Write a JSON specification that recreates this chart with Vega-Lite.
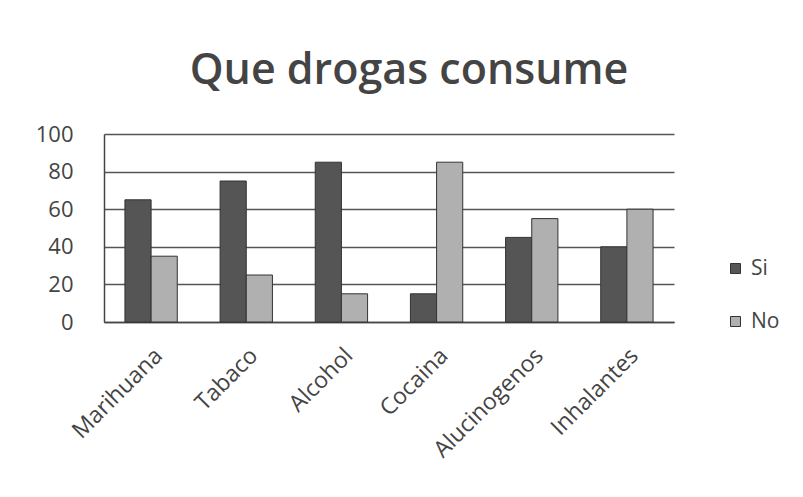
{
  "$schema": "https://vega.github.io/schema/vega-lite/v6.json",
  "autosize": "none",
  "width": 570,
  "height": 188,
  "padding": {"left": 104, "top": 134, "right": 129, "bottom": 175},
  "background": "white",
  "title": {
    "text": "Que drogas consume",
    "font": "Open Sans",
    "fontSize": 43,
    "fontWeight": 600,
    "color": "#444444",
    "anchor": "middle",
    "dx": 20,
    "offset": 30
  },
  "data": {
    "values": [
      {"droga": "Marihuana", "serie": "Si", "valor": 65},
      {"droga": "Marihuana", "serie": "No", "valor": 35},
      {"droga": "Tabaco", "serie": "Si", "valor": 75},
      {"droga": "Tabaco", "serie": "No", "valor": 25},
      {"droga": "Alcohol", "serie": "Si", "valor": 85},
      {"droga": "Alcohol", "serie": "No", "valor": 15},
      {"droga": "Cocaina", "serie": "Si", "valor": 15},
      {"droga": "Cocaina", "serie": "No", "valor": 85},
      {"droga": "Alucinogenos", "serie": "Si", "valor": 45},
      {"droga": "Alucinogenos", "serie": "No", "valor": 55},
      {"droga": "Inhalantes", "serie": "Si", "valor": 40},
      {"droga": "Inhalantes", "serie": "No", "valor": 60}
    ]
  },
  "mark": {"type": "bar", "stroke": "#333333", "strokeWidth": 1},
  "encoding": {
    "x": {
      "field": "droga",
      "type": "nominal",
      "sort": null,
      "title": null,
      "scale": {"paddingInner": 0.45, "paddingOuter": 0.22},
      "axis": {
        "labelAngle": -45,
        "labelFont": "Open Sans",
        "labelFontSize": 23,
        "labelColor": "#444444",
        "ticks": false,
        "domainColor": "#444444",
        "domainWidth": 1.5,
        "labelPadding": 22
      }
    },
    "xOffset": {"field": "serie", "type": "nominal", "sort": ["Si", "No"], "scale": {"paddingInner": 0}},
    "y": {
      "field": "valor",
      "type": "quantitative",
      "title": null,
      "scale": {"domain": [0, 100]},
      "axis": {
        "values": [0, 20, 40, 60, 80, 100],
        "labelFont": "Open Sans",
        "labelFontSize": 22,
        "labelColor": "#444444",
        "ticks": false,
        "labelPadding": 31,
        "domain": true,
        "domainColor": "#444444",
        "domainWidth": 1.5,
        "grid": true,
        "gridColor": "#555555",
        "gridWidth": 1.5
      }
    },
    "color": {
      "field": "serie",
      "type": "nominal",
      "sort": ["Si", "No"],
      "scale": {"domain": ["Si", "No"], "range": ["#555555", "#b0b0b0"]},
      "legend": {
        "title": null,
        "orient": "none",
        "legendX": 621,
        "legendY": 124,
        "symbolType": "square",
        "symbolSize": 100,
        "symbolStrokeColor": "#333333",
        "symbolStrokeWidth": 1,
        "labelFont": "Open Sans",
        "labelFontSize": 21,
        "labelColor": "#444444",
        "rowPadding": 31,
        "labelOffset": 5
      }
    }
  },
  "config": {"view": {"stroke": null}}
}
